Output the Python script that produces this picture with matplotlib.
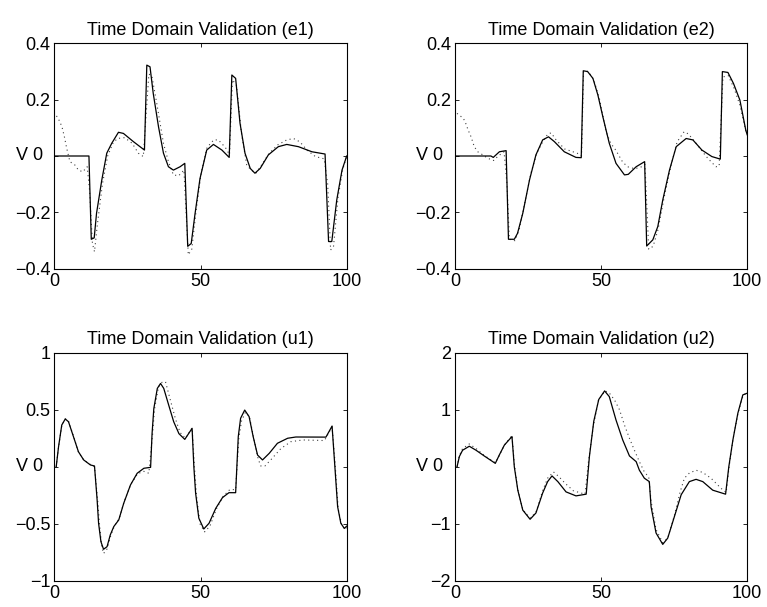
import matplotlib
matplotlib.use("Agg")
import matplotlib.pyplot as plt

plt.rcParams['font.family'] = ['Liberation Sans', 'DejaVu Sans']
plt.rcParams['font.size'] = 13

# ---- e1 ----
t_e1 = [0, 11.8, 12.6, 13.6, 14.4, 16.2, 17.9, 19.6, 21.9, 23.6, 27.0, 30.8, 31.6, 32.7,
        33.8, 35.6, 37.3, 39.0, 40.7, 43.0, 44.6, 45.6, 46.8, 48.1, 49.8, 52.1, 54.4, 57.3,
        59.8, 60.7, 62.0, 63.5, 65.2, 67.0, 68.6, 70.4, 73.2, 76.6, 79.5, 83.5, 88.1, 92.6,
        93.8, 94.9, 96.6, 98.4, 100]
e1_model = [0, 0, -0.295, -0.29, -0.203, -0.085, 0.01, 0.045, 0.084, 0.08, 0.051, 0.021, 0.322, 0.316,
            0.222, 0.104, 0.01, -0.038, -0.05, -0.038, -0.026, -0.32, -0.31, -0.205, -0.08, 0.021, 0.041, 0.021,
            -0.005, 0.287, 0.275, 0.116, 0.01, -0.044, -0.061, -0.044, 0.004, 0.033, 0.041, 0.033, 0.015, 0.007,
            -0.303, -0.303, -0.156, -0.05, 0.0]
t_e1_meas = [0.7, 1.9, 2.7, 3.4, 4.2, 5.3, 7.0, 8.2, 9.7, 11.2, 12.0, 13.0, 13.7, 14.6, 16.4, 18.2,
             20.0, 21.5, 24.0, 26.6, 28.7, 30.4, 32.3, 33.3, 35.0, 37.3, 39.0, 40.7, 42.5, 44.3, 45.8,
             47.0, 48.4, 50.2, 52.2, 54.5, 56.1, 58.5, 59.9, 60.9, 62.3, 64.0, 65.8, 67.3, 69.0, 71.0,
             73.5, 76.5, 79.5, 81.8, 84.0, 86.5, 89.3, 92.3, 93.5, 94.5, 95.5, 97.0, 98.6, 100]
e1_meas = [0.142, 0.121, 0.098, 0.068, 0.027, -0.02, -0.032, -0.05, -0.056, -0.038, -0.12, -0.31, -0.339, -0.25, -0.1, 0.0,
           0.045, 0.062, 0.065, 0.045, 0.01, -0.002, 0.29, 0.285, 0.187, 0.045, -0.02, -0.067, -0.07, -0.05, -0.35,
           -0.33, -0.2, -0.06, 0.03, 0.057, 0.057, 0.03, 0.005, 0.27, 0.25, 0.08, -0.032, -0.05, -0.06, -0.03,
           0.01, 0.04, 0.057, 0.062, 0.05, 0.02, -0.002, -0.01, -0.1, -0.333, -0.32, -0.15, -0.05, 0.0]

# ---- e2 ----
t_e2 = [0, 12.3, 13.1, 15.2, 17.5, 18.3, 20.3, 21.4, 23.2, 25.5, 27.7, 30.0, 32.0, 34.0, 37.4,
        41.4, 43.2, 43.9, 45.4, 47.2, 48.9, 50.6, 52.8, 55.1, 58.0, 59.3, 62.0, 64.9, 65.6, 67.7,
        69.4, 71.1, 73.4, 75.7, 79.1, 81.4, 84.5, 87.9, 90.8, 91.5, 93.4, 95.3, 97.5, 99.5, 100]
e2_model = [0, 0, -0.005, 0.015, 0.019, -0.295, -0.295, -0.274, -0.203, -0.085, 0.004, 0.057, 0.068, 0.051, 0.015,
            -0.005, -0.006, 0.302, 0.299, 0.275, 0.216, 0.139, 0.045, -0.026, -0.067, -0.065, -0.038, -0.02, -0.319, -0.297,
            -0.25, -0.156, -0.05, 0.033, 0.062, 0.057, 0.021, -0.002, -0.011, 0.299, 0.296, 0.257, 0.198, 0.092, 0.075]
t_e2_meas = [0.7, 2.9, 3.7, 4.5, 5.5, 6.6, 7.8, 9.5, 11.2, 13.2, 14.8, 16.8, 17.8, 18.6, 20.5, 22.0,
             24.0, 26.0, 28.0, 30.0, 31.7, 32.9, 34.6, 37.5, 41.8, 43.3, 44.0, 45.6, 47.5, 49.5, 51.7,
             53.3, 55.0, 57.3, 59.0, 61.5, 63.5, 65.0, 66.3, 67.8, 69.5, 71.5, 73.8, 76.0, 78.4, 79.9,
             82.5, 86.0, 87.6, 89.3, 90.4, 91.7, 93.5, 95.5, 97.5, 99.5, 100]
e2_meas = [0.151, 0.133, 0.115, 0.092, 0.068, 0.033, 0.015, 0.004, -0.008, -0.016, 0.0, 0.015, -0.1, -0.295, -0.3, -0.26,
           -0.16, -0.06, 0.01, 0.05, 0.077, 0.082, 0.057, 0.025, 0.01, 0.0, 0.3, 0.3, 0.27, 0.2, 0.086,
           0.045, 0.021, -0.02, -0.038, -0.045, -0.04, -0.03, -0.33, -0.32, -0.26, -0.15, -0.04, 0.05, 0.086, 0.078,
           0.045, -0.002, -0.02, -0.038, -0.036, 0.28, 0.285, 0.24, 0.18, 0.09, 0.08]

# ---- u1 ----
t_u1 = [0.6, 1.4, 2.5, 3.7, 4.8, 6.5, 8.2, 10.0, 12.3, 13.7, 14.6, 15.1, 15.9, 16.8, 18.0, 19.1,
        20.3, 22.0, 23.7, 26.0, 28.3, 30.6, 32.9, 33.4, 34.0, 35.2, 36.3, 37.4, 39.1, 40.8, 42.6,
        44.6, 47.1, 47.7, 48.3, 49.4, 51.1, 52.9, 55.2, 57.5, 59.7, 62.0, 62.9, 63.7, 65.1, 66.6,
        68.0, 69.5, 71.2, 73.5, 76.3, 79.8, 82.6, 92.9, 95.0, 95.8, 96.9, 98.0, 99.2, 100]
u1_model = [0.0, 0.176, 0.366, 0.419, 0.395, 0.264, 0.132, 0.06, 0.016, 0.007, -0.29, -0.495, -0.656, -0.723, -0.7, -0.597,
            -0.524, -0.466, -0.32, -0.16, -0.057, -0.013, -0.005, 0.29, 0.51, 0.687, 0.73, 0.687, 0.54, 0.395, 0.29,
            0.24, 0.337, 0.0, -0.23, -0.45, -0.545, -0.495, -0.364, -0.27, -0.227, -0.227, 0.264, 0.425, 0.497, 0.44,
            0.264, 0.103, 0.06, 0.118, 0.206, 0.25, 0.261, 0.26, 0.357, 0.06, -0.35, -0.495, -0.54, -0.52]
t_u1_meas = [0.6, 1.4, 2.5, 3.7, 4.8, 6.5, 8.2, 10.0, 12.3, 13.7, 14.8, 15.4, 16.2, 16.8, 18.0, 19.3,
             20.5, 22.2, 23.9, 26.2, 28.5, 30.6, 32.3, 33.6, 34.2, 35.6, 36.8, 38.0, 39.5, 41.4, 43.0,
             44.8, 47.1, 47.9, 48.6, 49.8, 51.4, 53.2, 55.4, 57.7, 60.0, 62.0, 63.1, 64.0, 65.4, 66.8,
             68.2, 69.7, 70.6, 72.0, 74.0, 77.5, 80.9, 85.0, 92.4, 95.0, 96.0, 97.1, 98.2, 99.3, 100]
u1_meas = [0.0, 0.17, 0.36, 0.42, 0.4, 0.27, 0.13, 0.06, 0.02, 0.0, -0.3, -0.5, -0.7, -0.76, -0.72, -0.6,
           -0.52, -0.45, -0.3, -0.15, -0.06, -0.04, -0.057, 0.29, 0.5, 0.7, 0.74, 0.745, 0.6, 0.42, 0.3,
           0.25, 0.34, 0.0, -0.25, -0.5, -0.57, -0.52, -0.37, -0.26, -0.2, -0.2, 0.25, 0.4, 0.48, 0.43,
           0.25, 0.07, 0.007, 0.007, 0.06, 0.16, 0.22, 0.235, 0.23, 0.35, 0.04, -0.37, -0.5, -0.55, -0.53]

# ---- u2 ----
t_u2 = [0.7, 1.5, 2.6, 4.9, 7.2, 10.0, 13.8, 15.2, 16.9, 19.5, 20.3, 21.5, 23.2, 25.7, 27.7, 30.0,
        31.7, 33.2, 35.2, 38.0, 41.4, 44.9, 46.0, 47.5, 49.2, 51.2, 52.8, 55.1, 57.4, 59.7, 62.0,
        63.1, 64.8, 66.5, 67.1, 68.8, 71.1, 72.8, 75.1, 77.4, 80.2, 82.5, 84.8, 88.2, 92.6, 93.7,
        95.1, 96.8, 98.5, 100]
u2_model = [0.0, 0.18, 0.29, 0.36, 0.29, 0.19, 0.06, 0.21, 0.38, 0.53, 0.0, -0.41, -0.76, -0.92, -0.81, -0.46,
            -0.26, -0.16, -0.26, -0.44, -0.51, -0.48, 0.18, 0.8, 1.18, 1.33, 1.23, 0.82, 0.47, 0.19, 0.09,
            -0.06, -0.2, -0.26, -0.7, -1.16, -1.36, -1.25, -0.87, -0.49, -0.26, -0.22, -0.26, -0.41, -0.48, 0.0,
            0.47, 0.94, 1.26, 1.29]
t_u2_meas = [0.7, 1.5, 2.6, 4.9, 7.2, 10.0, 13.8, 15.2, 16.9, 19.5, 20.3, 21.5, 23.2, 25.7, 27.7, 30.0,
             31.7, 33.7, 35.5, 37.7, 40.5, 44.5, 45.7, 47.3, 49.1, 51.4, 53.0, 54.6, 56.3, 58.0, 59.7,
             61.4, 63.1, 64.8, 66.3, 67.1, 68.8, 71.1, 72.8, 75.1, 77.0, 78.5, 80.2, 82.5, 84.8, 87.6,
             91.1, 92.8, 93.8, 95.2, 96.9, 98.6, 100]
u2_meas = [0.0, 0.2, 0.32, 0.4, 0.32, 0.2, 0.07, 0.2, 0.38, 0.55, 0.05, -0.4, -0.75, -0.9, -0.8, -0.42,
           -0.2, -0.09, -0.17, -0.29, -0.42, -0.48, 0.1, 0.7, 1.17, 1.33, 1.28, 1.17, 1.0, 0.73, 0.5,
           0.29, 0.09, -0.09, -0.18, -0.6, -1.1, -1.33, -1.25, -0.85, -0.45, -0.2, -0.11, -0.06, -0.1, -0.2,
           -0.38, -0.45, 0.0, 0.5, 0.95, 1.25, 1.3]

titles = ['Time Domain Validation (e1)', 'Time Domain Validation (e2)',
          'Time Domain Validation (u1)', 'Time Domain Validation (u2)']
# the zero tick is written together with the unit as "V 0"
e_ticks = [-0.4, -0.2, 0, 0.2, 0.4]
e_labels = ['\u22120.4', '\u22120.2', '', '0.2', '0.4']
u1_ticks = [-1, -0.5, 0, 0.5, 1]
u1_labels = ['\u22121', '\u22120.5', '', '0.5', '1']
u2_ticks = [-2, -1, 0, 1, 2]
u2_labels = ['\u22122', '\u22121', '', '1', '2']
zero_label = 'V 0'

panels = [
    (t_e1, e1_model, t_e1_meas, e1_meas, e_ticks, e_labels),
    (t_e2, e2_model, t_e2_meas, e2_meas, e_ticks, e_labels),
    (t_u1, u1_model, t_u1_meas, u1_meas, u1_ticks, u1_labels),
    (t_u2, u2_model, t_u2_meas, u2_meas, u2_ticks, u2_labels),
]

# axes rectangles in figure fractions (MATLAB subplot layout)
rects = [[0.0710, 0.557, 0.381, 0.372],
         [0.5932, 0.557, 0.381, 0.372],
         [0.0710, 0.043, 0.381, 0.376],
         [0.5932, 0.043, 0.381, 0.376]]

fig = plt.figure(figsize=(7.67, 6.07), dpi=100)

for k in range(4):
    t, model, tm, meas, yt, yl = panels[k]
    ax = fig.add_axes(rects[k])
    ax.plot(tm, meas, color='0.25', linestyle=(0, (1, 3)), linewidth=0.8)
    ax.plot(t, model, color='black', linewidth=0.9)
    ax.set_xlim(0, 100)
    ax.set_ylim(yt[0], yt[-1])
    ax.set_xticks([0, 50, 100])
    ax.set_yticks(yt)
    ax.set_yticklabels(yl)
    ax.tick_params(direction='in', top=True, right=True, length=3, width=0.6, pad=3)
    for s in ax.spines.values():
        s.set_linewidth(0.8)
    ax.set_title(titles[k], fontsize=13, pad=6)
    ax.set_ylabel(zero_label, rotation=0, va='center', ha='right')
    ax.yaxis.set_label_coords(-0.04, 0.5)

fig.savefig('out.png', dpi=100)
